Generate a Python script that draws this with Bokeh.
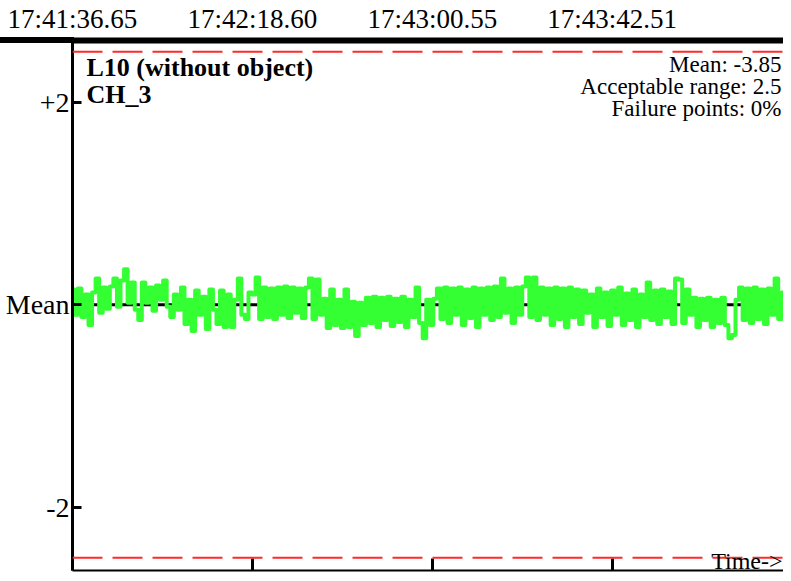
from bokeh.plotting import figure
from bokeh.models import (ColumnDataSource, LinearAxis, FixedTicker, Span, Label, Range1d)
from bokeh.embed import file_html
from bokeh.resources import INLINE

# ---- data ----
sample_interval = 0.829  # seconds between samples
deviation = [
    0.15, -0.10, 0.16, -0.12, 0.10, -0.20, 0.12, 0.26, -0.08, 0.17,
    -0.04, 0.18, 0.26, -0.02, 0.24, 0.35, 0.02, 0.22, -0.05, -0.15,
    0.22, 0.02, 0.17, -0.06, 0.19, 0.05, 0.24, -0.02, -0.12, 0.10,
    -0.05, 0.17, -0.19, 0.05, -0.26, 0.14, -0.10, 0.08, -0.24, 0.15,
    -0.05, -0.19, 0.14, -0.22, 0.10, -0.22, 0.05, 0.26, -0.10, -0.14,
    0.12, 0.10, 0.27, -0.14, 0.17, -0.12, 0.16, -0.14, 0.17, -0.10,
    0.18, -0.13, 0.17, -0.08, 0.16, -0.13, 0.17, 0.26, -0.14, 0.25,
    -0.10, 0.06, -0.23, 0.15, -0.20, 0.05, -0.23, 0.15, -0.22, 0.03,
    -0.31, 0.02, -0.20, 0.07, -0.18, 0.08, -0.22, 0.07, -0.15, 0.08,
    -0.21, 0.06, -0.17, 0.08, -0.22, 0.05, -0.12, 0.17, -0.18, -0.33,
    0.05, -0.20, 0.06, 0.16, -0.14, 0.17, -0.18, 0.16, -0.10, 0.17,
    -0.20, 0.15, -0.13, 0.17, -0.22, 0.16, -0.10, 0.17, -0.15, 0.18,
    -0.12, 0.26, -0.08, 0.16, -0.18, 0.17, -0.10, 0.18, 0.27, -0.12,
    0.27, -0.15, 0.17, -0.10, 0.16, -0.20, 0.17, -0.14, 0.16, -0.22,
    0.17, -0.12, 0.15, -0.19, 0.14, -0.08, 0.10, -0.22, 0.16, -0.12,
    0.12, -0.21, 0.14, -0.10, 0.17, -0.20, 0.11, -0.15, 0.15, -0.22,
    0.10, -0.12, 0.22, -0.15, 0.14, -0.19, 0.15, -0.12, 0.13, -0.19,
    0.26, 0.25, -0.18, 0.15, -0.10, 0.07, -0.22, 0.06, -0.15, 0.07,
    -0.22, 0.05, -0.18, 0.07, -0.20, -0.33, -0.30, 0.05, 0.17, -0.15,
    0.16, -0.18, 0.17, -0.14, 0.15, -0.19, 0.16, -0.10, 0.26, -0.14,
    0.12,
]
time_s = [i * sample_interval for i in range(len(deviation))]

tick_positions = [0.0, 41.95, 83.90, 125.86]
tick_labels = ["17:41:36.65", "17:42:18.60", "17:43:00.55", "17:43:42.51"]

y_ticks = [2, 0, -2]
y_tick_labels = ["+2", "Mean", "-2"]

acceptable_range = 2.5
mean_value = -3.85
failure_pct = 0
title_lines = ["L10 (without object)", "CH_3"]

FONT = "Liberation Serif"

x_end = time_s[-1]
y_lo, y_hi = -2.627, 2.612
p = figure(output_backend="svg", toolbar_location=None,
           x_range=Range1d(0, x_end), y_range=Range1d(y_lo, y_hi),
           x_axis_location=None, y_axis_location=None,
           min_border_left=72, min_border_right=0, min_border_top=40, min_border_bottom=3,
           frame_width=711, frame_height=530)
p.outline_line_color = None
p.xgrid.visible = False
p.ygrid.visible = False
p.background_fill_color = "white"
p.border_fill_alpha = 0.0
# page-wide thick top rule continues left of the plot frame
p.styles = {"background": "linear-gradient(#000, #000) 0px 37px / 74px 6px no-repeat, #ffffff"}

# axes
left = LinearAxis(ticker=FixedTicker(ticks=y_ticks),
                  major_label_overrides={v: s for v, s in zip(y_ticks, y_tick_labels)})
left.axis_line_width = 3
left.major_tick_in = 9
left.major_tick_out = 0
left.major_tick_line_width = 3
left.minor_tick_line_color = None
left.major_label_text_font = FONT
left.major_label_text_font_size = "28px"
left.major_label_text_color = "black"
left.major_label_standoff = 3
p.add_layout(left, "left")

bottom = LinearAxis(ticker=FixedTicker(ticks=tick_positions),
                    major_label_overrides={v: "" for v in tick_positions})
bottom.axis_line_width = 2
bottom.major_tick_in = 12
bottom.major_tick_out = 0
bottom.major_tick_line_width = 3
bottom.minor_tick_line_color = None
bottom.major_label_standoff = 0
p.add_layout(bottom, "below")

top = LinearAxis(ticker=FixedTicker(ticks=tick_positions),
                 major_label_overrides={v: s for v, s in zip(tick_positions, tick_labels)})
top.axis_line_width = 6
top.major_tick_line_color = None
top.major_tick_in = 0
top.major_tick_out = 0
top.minor_tick_line_color = None
top.major_label_text_font = FONT
top.major_label_text_font_size = "27px"
top.major_label_text_color = "black"
top.major_label_standoff = 7
p.add_layout(top, "above")

# reference lines
p.add_layout(Span(location=0, dimension="width", line_color="black", line_width=3, level="underlay"))
for lim in (acceptable_range, -acceptable_range):
    p.add_layout(Span(location=lim, dimension="width", line_color="#ff2a2a",
                      line_width=2, line_dash="30 10"))

src = ColumnDataSource(dict(t=time_s, v=deviation))
p.step("t", "v", source=src, mode="center", line_color="#33ff33", line_width=4, line_join="round")

# texts
p.add_layout(Label(x=0, y=2.35, x_offset=14, text=title_lines[0], text_font=FONT,
                   text_color="black",
                   text_font_size="26px", text_font_style="bold", text_baseline="alphabetic"))
p.add_layout(Label(x=0, y=2.075, x_offset=14, text=title_lines[1], text_font=FONT,
                   text_color="black",
                   text_font_size="26px", text_font_style="bold", text_baseline="alphabetic"))

info = [f"Mean: {mean_value}", f"Acceptable range: {acceptable_range}", f"Failure points: {failure_pct}%"]
for txt, yy in zip(info, [2.37, 2.155, 1.94]):
    p.add_layout(Label(x=x_end, y=yy, x_offset=-2, text=txt, text_font=FONT,
                       text_color="black",
                       text_font_size="23px", text_align="right", text_baseline="alphabetic"))

p.add_layout(Label(x=x_end, y=-2.53, x_offset=-1, text="Time->", text_font=FONT,
                   text_color="black",
                   text_font_size="24px", text_align="right", text_baseline="alphabetic"))

open("out.html", "w").write(file_html(p, INLINE))
